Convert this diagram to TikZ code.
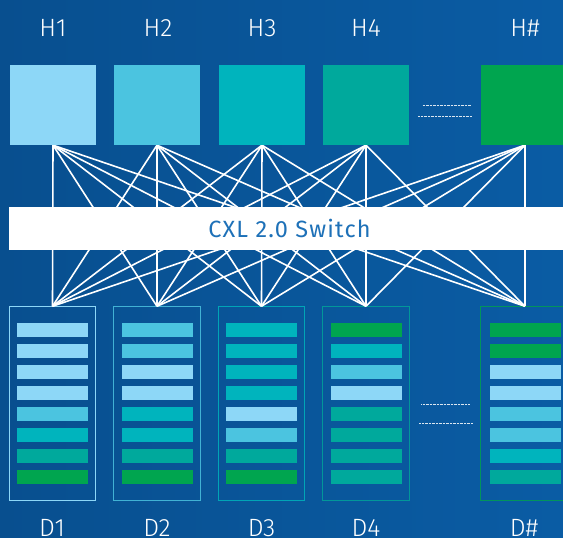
\documentclass[tikz,border=0pt]{standalone}
\usepackage{fontspec}
\setmainfont{Fira Sans}
\newfontfamily\lightfont{Fira Sans}[UprightFont=* Light]
\newfontfamily\swfont{Fira Sans}[LetterSpace=5]
\definecolor{bgl}{HTML}{084F8F}
\definecolor{bgr}{HTML}{0A5CA4}
\definecolor{ca}{HTML}{8DD7F7}
\definecolor{cb}{HTML}{4BC4E0}
\definecolor{cc}{HTML}{00B4BD}
\definecolor{cd}{HTML}{00A99C}
\definecolor{ce}{HTML}{00A54F}
\definecolor{swtext}{HTML}{1E71B8}
\begin{document}
\begin{tikzpicture}[x=1pt,y=-1pt,
  hostbox/.style={draw=none, minimum width=86pt, minimum height=80pt, inner sep=0pt},
  devbox/.style={draw, line width=0.9pt, minimum width=86.5pt, minimum height=194pt, inner sep=0pt},
  lbl/.style={text=white, anchor=base, inner sep=0pt, font=\lightfont\fontsize{25}{25}\selectfont},
  link/.style={white, line width=1.6pt},
  dots/.style={white, line width=1pt, dash pattern=on 0.8pt off 0.6pt, opacity=0.85},
  swbox/.style={fill=white, minimum width=561pt, minimum height=43.5pt, inner sep=0pt, text=swtext, font=\swfont\fontsize{23.5}{23.5}\selectfont}]
\useasboundingbox (0,0) rectangle (563,538);
\shade[left color=bgl, right color=bgr] (0,0) rectangle (563,538);
% host boxes (positions)
\node[hostbox, fill=ca] (h1) at (53,105) {};
\node[hostbox, fill=cb] (h2) at (157,105) {};
\node[hostbox, fill=cc] (h3) at (262,105) {};
\node[hostbox, fill=cd] (h4) at (366,105) {};
\node[hostbox, fill=ce, minimum width=88pt] (h5) at (525,105) {};
% device boxes
\node[devbox, draw=ca] (d1) at (52.5,403.7) {};
\node[devbox, draw=cb!85!bgl] (d2) at (157,403.7) {};
\node[devbox, draw=cc!85!bgl] (d3) at (261.5,403.7) {};
\node[devbox, draw=cd!80!bgl] (d4) at (366,403.7) {};
\node[devbox, draw=ce!80!bgl, minimum width=89pt] (d5) at (525,403.7) {};
% links
\foreach \i in {1,...,5}{
  \foreach \j in {1,...,5}{
    \draw[link] (h\i.south) -- (d\j.north);
  }
}
% redraw host boxes over links
\foreach \n/\c in {h1/ca,h2/cb,h3/cc,h4/cd,h5/ce}{
  \fill[\c] (\n.north west) rectangle (\n.south east);
}
% switch
\node[swbox] (sw) at (289.5,228.3) {CXL 2.0 Switch};
% bars
\foreach \d/\cols in {d1/{ca,ca,ca,ca,cb,cc,cd,ce},d2/{cb,cb,ca,ca,cc,cc,cd,ce},d3/{cc,cc,cc,cc,ca,cb,cd,ce},d4/{ce,cc,cb,ca,cd,cd,cd,cd},d5/{ce,ce,ca,ca,cb,cb,cc,cd}}{
  \foreach \c [count=\k from 0] in \cols{
    \fill[\c] ([xshift=-35.5pt,yshift=-(323+21*\k)*1pt+306.7pt]\d.north) rectangle ++(71,14.7);
  }
}
% dotted ellipsis lines
\coordinate (ta1) at (422.7,105);   \coordinate (tb1) at (470.7,105);
\coordinate (ta2) at (418,116.7);   \coordinate (tb2) at (471.7,116.7);
\coordinate (ba1) at (421.3,404);   \coordinate (bb1) at (470,404);
\coordinate (ba2) at (419,423.3);   \coordinate (bb2) at (472.7,423.3);
\draw[dots] (ta1) -- (tb1);
\draw[dots] (ta2) -- (tb2);
\draw[dots] (ba1) -- (bb1);
\draw[dots] (ba2) -- (bb2);
% labels
\node[lbl] (lh1) at (53,36) {H1};
\node[lbl] (lh2) at (158,36) {H2};
\node[lbl] (lh3) at (262,36) {H3};
\node[lbl] (lh4) at (366,36) {H4};
\node[lbl] (lh5) at (525,36) {H\#};
\node[lbl] (ld1) at (52,536.5) {D1};
\node[lbl] (ld2) at (157,536.5) {D2};
\node[lbl] (ld3) at (261.5,536.5) {D3};
\node[lbl] (ld4) at (366,536.5) {D4};
\node[lbl] (ld5) at (524,536.5) {D\#};
\end{tikzpicture}
\end{document}
